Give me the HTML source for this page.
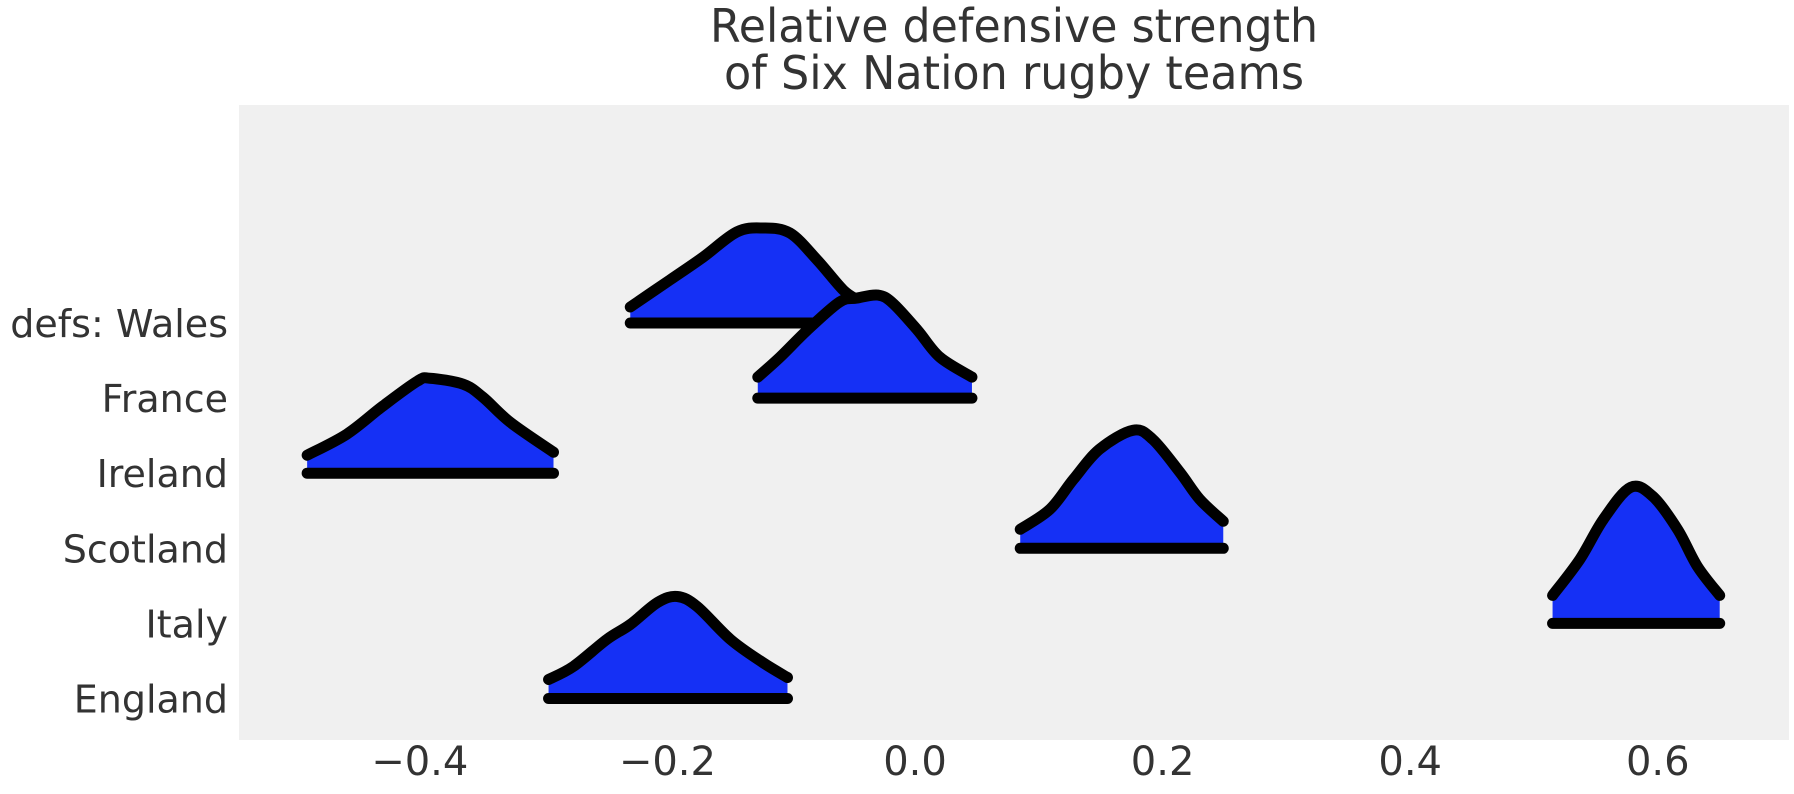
<!DOCTYPE html>
<html><head><meta charset="utf-8"><style>
html,body{margin:0;padding:0;background:#fff;}
svg{display:block;font-family:"DejaVu Sans","Liberation Sans",sans-serif;}
</style></head><body>
<svg id="chart" width="1794" height="794" viewBox="0 0 1794 794">
<g>
<text x="1014" y="42" text-anchor="middle" font-size="46" fill="#333" textLength="608" lengthAdjust="spacingAndGlyphs">Relative defensive strength</text>
<text x="1014" y="89" text-anchor="middle" font-size="46" fill="#333" textLength="580" lengthAdjust="spacingAndGlyphs">of Six Nation rugby teams</text>
</g>
<rect x="239" y="105" width="1550" height="635" fill="#f0f0f0"/>
<g id="ridges"></g>
<g id="ylabels"></g>
<g id="xticks"></g>
</svg>
<script>
const teams = ["defs: Wales","France","Ireland","Scotland","Italy","England"];
const walesX = [-0.230,-0.198,-0.171,-0.144,-0.123,-0.101,-0.079,-0.058,-0.046];
const walesD = [0.16,0.43,0.66,0.91,0.95,0.90,0.63,0.33,0.23];
const franceX = [-0.127,-0.109,-0.087,-0.061,-0.047,-0.030,-0.018,0.002,0.020,0.046];
const franceD = [0.21,0.41,0.68,0.96,1.00,1.03,0.95,0.68,0.41,0.21];
const irelandX = [-0.491,-0.459,-0.430,-0.402,-0.392,-0.365,-0.349,-0.327,-0.292];
const irelandD = [0.18,0.39,0.67,0.92,0.95,0.89,0.76,0.51,0.21];
const scotlandX = [0.085,0.109,0.128,0.149,0.176,0.192,0.214,0.230,0.249];
const scotlandD = [0.19,0.39,0.69,0.99,1.18,1.09,0.76,0.49,0.27];
const italyX = [0.515,0.537,0.556,0.578,0.596,0.616,0.632,0.650];
const italyD = [0.28,0.64,1.04,1.36,1.27,0.94,0.57,0.28];
const englandX = [-0.296,-0.276,-0.249,-0.230,-0.208,-0.192,-0.176,-0.149,-0.123,-0.103];
const englandD = [0.19,0.32,0.59,0.74,0.96,1.02,0.92,0.59,0.36,0.21];
const seriesX = [walesX,franceX,irelandX,scotlandX,italyX,englandX];
const seriesD = [walesD,franceD,irelandD,scotlandD,italyD,englandD];
const xTicks = [-0.4,-0.2,0.0,0.2,0.4,0.6];
const xTickLabels = ["\u22120.4","\u22120.2","0.0","0.2","0.4","0.6"];

const NS="http://www.w3.org/2000/svg";
const xs = v => 915 + v*1238;
const rowY = i => 323 + i*75.1;
const hScale = 100;
function mk(tag, attrs, parent){const e=document.createElementNS(NS,tag);for(const k in attrs)e.setAttribute(k,attrs[k]);parent.appendChild(e);return e;}
function smooth(pts){
  let d=`M${pts[0][0]},${pts[0][1]}`;
  for(let i=0;i<pts.length-1;i++){
    const p0=pts[Math.max(0,i-1)],p1=pts[i],p2=pts[i+1],p3=pts[Math.min(pts.length-1,i+2)];
    const c1=[p1[0]+(p2[0]-p0[0])/6,p1[1]+(p2[1]-p0[1])/6];
    const c2=[p2[0]-(p3[0]-p1[0])/6,p2[1]-(p3[1]-p1[1])/6];
    d+=` C${c1[0]},${c1[1]} ${c2[0]},${c2[1]} ${p2[0]},${p2[1]}`;
  }
  return d;
}
const rg=document.getElementById('ridges');
teams.forEach((t,i)=>{
  const base=rowY(i);
  const X=seriesX[i],D=seriesD[i];
  const pts=X.map((x,j)=>[xs(x),base-D[j]*hScale]);
  const curve=smooth(pts);
  const g=mk('g',{},rg);
  
  
  const fill=mk('path',{d:curve+` L${xs(X[X.length-1])},${base} L${xs(X[0])},${base} Z`,fill:'#1530f5',stroke:'none'},g);
  
  
  const ln=mk('path',{d:curve,fill:'none',stroke:'#000','stroke-width':11,'stroke-linecap':'round','stroke-linejoin':'round'},g);
  
  
  const bl=mk('line',{x1:xs(X[0]),x2:xs(X[X.length-1]),y1:base,y2:base,stroke:'#000','stroke-width':11,'stroke-linecap':'round'},g);
  
  
});
const yl=document.getElementById('ylabels');
teams.forEach((t,i)=>{
  const tx=mk('text',{x:228,y:rowY(i)+14,'text-anchor':'end','font-size':38,fill:'#333'},yl);
  tx.textContent=t;
  
  
});
const xt=document.getElementById('xticks');
xTicks.forEach((v,i)=>{
  const tx=mk('text',{x:xs(v),y:775,'text-anchor':'middle','font-size':40,fill:'#333'},xt);
  tx.textContent=xTickLabels[i];
  
  
});
</script>
</body></html>
